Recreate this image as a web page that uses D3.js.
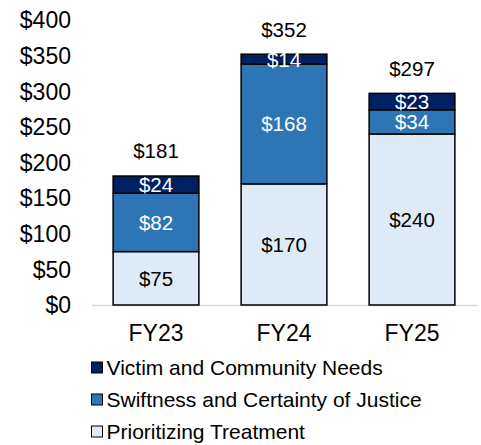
<!DOCTYPE html>
<html>
<head>
<style>
  body { margin: 0; background: #fff; }
  text { font-family: "Liberation Sans", Arial, sans-serif; }
</style>
</head>
<body>
<svg width="481" height="445"></svg>
<script src="https://cdn.jsdelivr.net/npm/d3@7"></script>
<script>
var categories = ["FY23", "FY24", "FY25"];
var seriesNames = ["Prioritizing Treatment", "Swiftness and Certainty of Justice", "Victim and Community Needs"];
var treatment = [75, 170, 240];
var swiftness = [82, 168, 34];
var victim = [24, 14, 23];
var totals = [181, 352, 297];
var yTicks = [0, 50, 100, 150, 200, 250, 300, 350, 400];
var colors = ["#DEEBF7", "#2E75B6", "#002060"];
var labelColors = ["#000", "#fff", "#fff"];

var svg = d3.select("svg");

var data = categories.map(function(c, i) {
  return { cat: c, s0: treatment[i], s1: swiftness[i], s2: victim[i], total: totals[i] };
});

var x = d3.scaleBand().domain(categories).range([92, 476])
  .paddingInner(0.33).paddingOuter(0.165);
var y = d3.scaleLinear().domain([0, 400]).range([305, 20]);

var series = d3.stack().keys(["s0", "s1", "s2"])(data);

// y axis labels
svg.selectAll(".ytick")
  .data(yTicks)
  .enter()
  .append("text")
  .attr("x", 71)
  .attr("y", function(d) { return y(d); })
  .attr("dy", "0.36em")
  .attr("text-anchor", "end")
  .attr("font-size", "23px")
  .attr("fill", "#000")
  .text(function(d) { return "$" + d; });

// baseline
svg.append("line")
  .attr("x1", 92).attr("x2", 478)
  .attr("y1", y(0) + 0.5).attr("y2", y(0) + 0.5)
  .attr("stroke", "#d9d9d9")
  .attr("stroke-width", 1.5);

var layer = svg.selectAll(".layer")
  .data(series)
  .enter()
  .append("g")
  .attr("class", "layer");

layer.selectAll("rect")
  .data(function(d, i) { return d.map(function(p) { return { p: p, i: i }; }); })
  .enter()
  .append("rect")
  .attr("x", function(d) { return x(d.p.data.cat); })
  .attr("width", x.bandwidth())
  .attr("y", function(d) { return y(d.p[1]); })
  .attr("height", function(d) { return y(d.p[0]) - y(d.p[1]); })
  .attr("fill", function(d) { return colors[d.i]; })
  .attr("stroke", "#000")
  .attr("stroke-width", 1.5);

layer.selectAll("text")
  .data(function(d, i) { return d.map(function(p) { return { p: p, i: i }; }); })
  .enter()
  .append("text")
  .attr("x", function(d) { return x(d.p.data.cat) + x.bandwidth() / 2; })
  .attr("y", function(d) { return (y(d.p[0]) + y(d.p[1])) / 2; })
  .attr("dy", "0.36em")
  .attr("text-anchor", "middle")
  .attr("font-size", "20.5px")
  .attr("fill", function(d) { return labelColors[d.i]; })
  .text(function(d) { return "$" + (d.p[1] - d.p[0]); });

// totals
svg.selectAll(".total")
  .data(data)
  .enter()
  .append("text")
  .attr("x", function(d) { return x(d.cat) + x.bandwidth() / 2; })
  .attr("y", function(d) { return y(d.total) - 25; })
  .attr("dy", "0.36em")
  .attr("text-anchor", "middle")
  .attr("font-size", "20.5px")
  .attr("fill", "#000")
  .text(function(d) { return "$" + d.total; });

// category labels
svg.selectAll(".cat")
  .data(categories)
  .enter()
  .append("text")
  .attr("x", function(d) { return x(d) + x.bandwidth() / 2; })
  .attr("y", 333)
  .attr("dy", "0.36em")
  .attr("text-anchor", "middle")
  .attr("font-size", "23px")
  .attr("fill", "#000")
  .text(function(d) { return d; });

// legend (reverse order)
var legendOrder = [2, 1, 0];
var lg = svg.selectAll(".legend")
  .data(legendOrder)
  .enter()
  .append("g")
  .attr("transform", function(d, i) { return "translate(91," + (367.5 + i * 32) + ")"; });

lg.append("rect")
  .attr("x", 0.5).attr("y", -5.5)
  .attr("width", 11).attr("height", 11)
  .attr("fill", function(d) { return colors[d]; })
  .attr("stroke", "#000")
  .attr("stroke-width", 1);

lg.append("text")
  .attr("x", 15.5)
  .attr("y", 0)
  .attr("dy", "0.36em")
  .attr("font-size", "21px")
  .attr("fill", "#000")
  .text(function(d) { return seriesNames[d]; });
</script>
</body>
</html>
